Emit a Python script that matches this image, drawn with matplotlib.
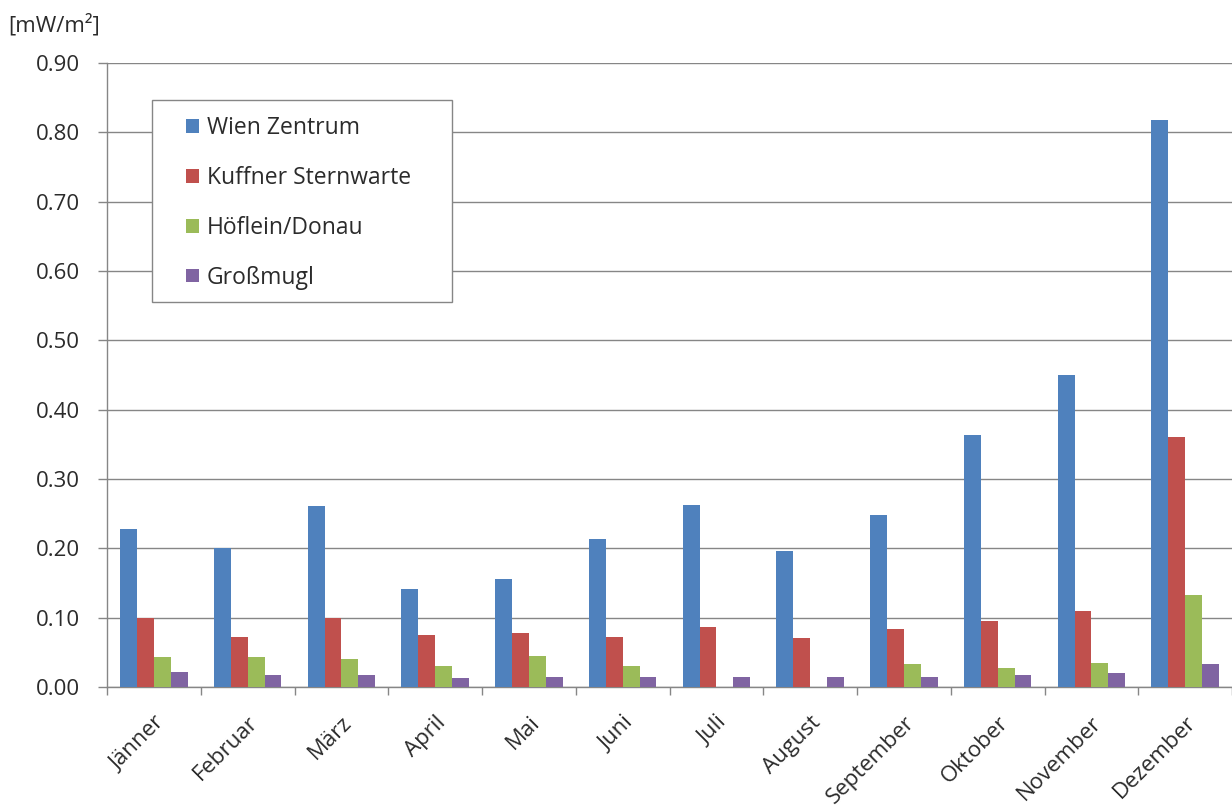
import numpy as np
import matplotlib
matplotlib.use("Agg")
import matplotlib.pyplot as plt
from matplotlib.patches import Patch, Rectangle

months = ["Jänner", "Februar", "März", "April", "Mai", "Juni", "Juli",
          "August", "September", "Oktober", "November", "Dezember"]
series_names = ["Wien Zentrum", "Kuffner Sternwarte", "Höflein/Donau", "Großmugl"]
wien = [0.228, 0.200, 0.261, 0.141, 0.156, 0.213, 0.263, 0.196, 0.248, 0.363, 0.450, 0.818]
kuffner = [0.100, 0.072, 0.100, 0.075, 0.078, 0.072, 0.087, 0.070, 0.083, 0.095, 0.110, 0.360]
hoeflein = [0.043, 0.043, 0.040, 0.030, 0.045, 0.030, np.nan, np.nan, 0.033, 0.028, 0.035, 0.132]
grossmugl = [0.022, 0.017, 0.017, 0.013, 0.015, 0.015, 0.015, 0.015, 0.015, 0.017, 0.020, 0.033]
yticks = [0.0, 0.1, 0.2, 0.3, 0.4, 0.5, 0.6, 0.7, 0.8, 0.9]

colors = ["#4F81BD", "#C0504D", "#9BBB59", "#8064A2"]
font = ["Open Sans", "DejaVu Sans"]
plt.rcParams["font.family"] = font
txt_color = "#2b2b2b"
FS = 16

W, H = 1232, 809
fig = plt.figure(figsize=(W / 100, H / 100), dpi=100)
ax = fig.add_axes([107 / W, 1 - 687 / H, 1 - 107 / W, (687 - 63) / H])

x = np.arange(len(months))
bw = 0.18
data = [wien, kuffner, hoeflein, grossmugl]
for i, (vals, c, name) in enumerate(zip(data, colors, series_names)):
    ax.bar(x + (i - 1.5) * bw, vals, width=bw, color=c, label=name, zorder=3)

ax.set_xlim(-0.5, len(months) - 0.5)
ax.set_ylim(0, 0.9)
ax.set_yticks(yticks)
ax.set_yticklabels([f"{v:.2f}" for v in yticks], fontsize=FS, color=txt_color)
ax.yaxis.grid(True, color="#868686", linewidth=1.0, zorder=0)
ax.set_axisbelow(True)

ax.set_xticks(x)
ax.set_xticklabels(months, rotation=45, ha="right", rotation_mode="anchor",
                   fontsize=FS, color=txt_color)
ax.tick_params(axis="x", which="major", length=0, pad=18)
ax.set_xticks(np.arange(-0.5, len(months), 1.0), minor=True)
ax.tick_params(axis="x", which="minor", length=6, color="#868686", width=1)
ax.tick_params(axis="y", length=6.5, color="#868686", width=1, pad=13)

for s in ["top", "right"]:
    ax.spines[s].set_visible(False)
for s in ["left", "bottom"]:
    ax.spines[s].set_color("#868686")
    ax.spines[s].set_linewidth(1.0)

fig.text(8 / W, 1 - 25 / H, "[mW/m²]", fontsize=FS, color=txt_color, ha="left", va="center")

# legend frame drawn in figure pixel coordinates
frame = Rectangle((152 / W, 1 - 302 / H), 300 / W, 202 / H, transform=fig.transFigure,
                  facecolor="white", edgecolor="#868686", linewidth=1.0, zorder=4)
fig.patches.append(frame)

handles = [Patch(facecolor=c, edgecolor="none") for c in colors]
leg = fig.legend(handles, series_names, loc="upper left",
                 bbox_to_anchor=(186 / W, 1 - 116 / H), bbox_transform=fig.transFigure,
                 fontsize=16.5, frameon=False,
                 handlelength=0.55, handleheight=0.55, handletextpad=0.35,
                 labelspacing=1.13, borderpad=0, borderaxespad=0)
leg.set_zorder(5)
for t in leg.get_texts():
    t.set_color(txt_color)

fig.savefig("out.png", dpi=100, facecolor="white")
